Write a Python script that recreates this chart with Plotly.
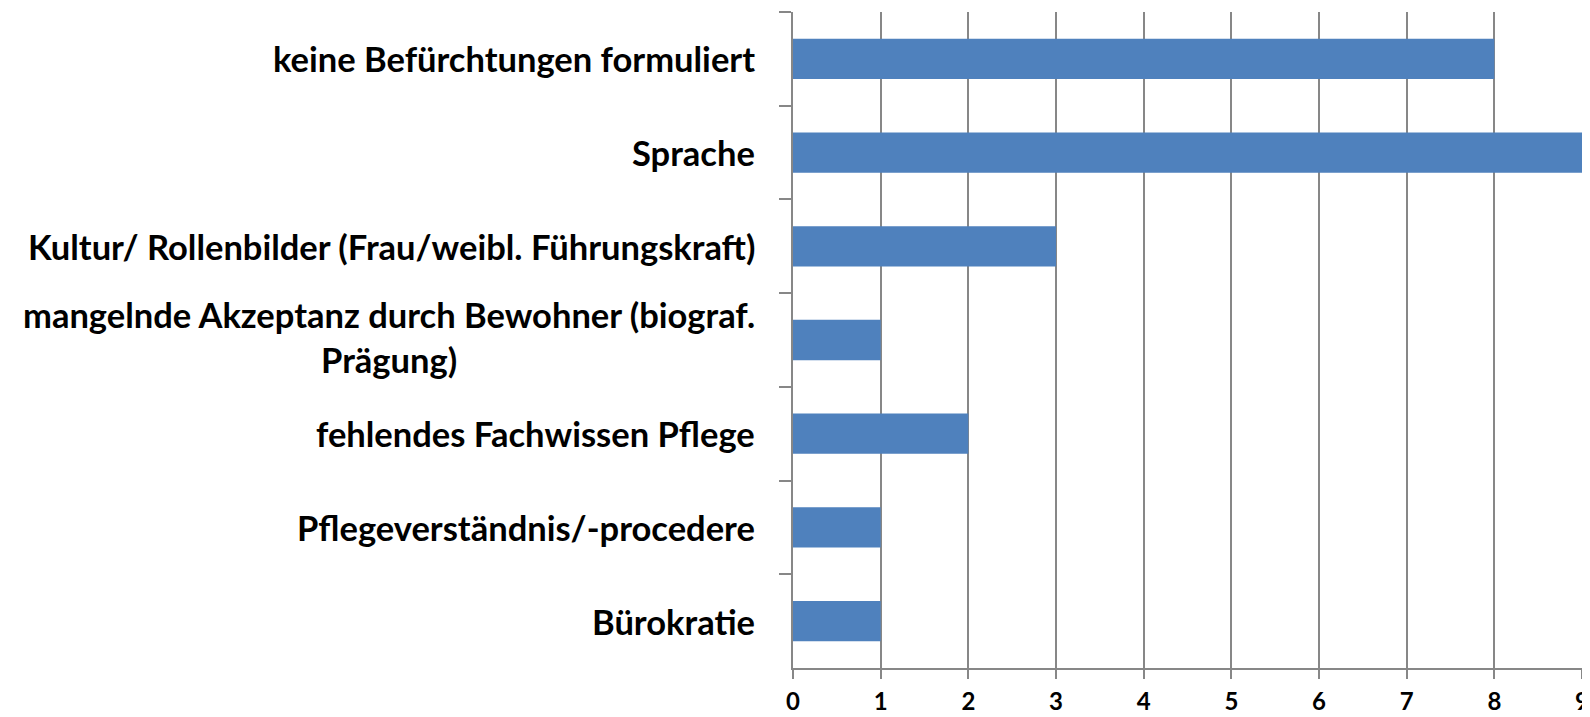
import plotly.graph_objects as go

# categories top to bottom as in the chart
categories = [
    "keine Befürchtungen formuliert",
    "Sprache",
    "Kultur/ Rollenbilder (Frau/weibl. Führungskraft)",
    "mangelnde Akzeptanz durch Bewohner (biograf.<br>Prägung)",
    "fehlendes Fachwissen Pflege",
    "Pflegeverständnis/-procedere",
    "Bürokratie",
]
counts = [8, 9, 3, 1, 2, 1, 1]
x_ticks = [0, 1, 2, 3, 4, 5, 6, 7, 8, 9]

GREY = "#878787"
FONT = "Lato"

fig = go.Figure(go.Bar(
    x=counts, y=categories, orientation="h",
    marker=dict(color="#4F81BD", line=dict(width=0)),
))

# category labels as annotations so the wrapped one stays centred
for cat in categories:
    fig.add_annotation(
        x=0, y=cat, xref="x", yref="y", text=f"<b>{cat}</b>",
        showarrow=False, xanchor="right", align="center",
        xshift=-36, yshift=3 if "<br>" in cat else 0,
        font=dict(family=FONT, size=34.5, color="black"),
    )

# page body adds an 8px margin, so the figure is a bit smaller than the window
fig.update_layout(
    width=1582, height=709,
    margin=dict(l=785, r=8, t=4, b=49),
    plot_bgcolor="white", paper_bgcolor="white",
    bargap=0.57, showlegend=False,
)
fig.update_xaxes(
    range=[0, 9], tickvals=x_ticks, ticktext=[f"<b>{v}</b>" for v in x_ticks],
    showgrid=True, gridcolor=GREY, gridwidth=2,
    showline=True, linecolor=GREY, linewidth=2,
    ticks="outside", ticklen=9, tickwidth=2, tickcolor=GREY,
    ticklabelstandoff=2, automargin=False,
    tickfont=dict(family=FONT, size=24, color="black"),
    zeroline=False,
)
fig.update_yaxes(
    autorange="reversed", showticklabels=False, automargin=False,
    showline=True, linecolor=GREY, linewidth=2,
    ticks="outside", tickson="boundaries", ticklen=12, tickwidth=2, tickcolor=GREY,
    showgrid=False,
)

fig.write_html("out.html")
